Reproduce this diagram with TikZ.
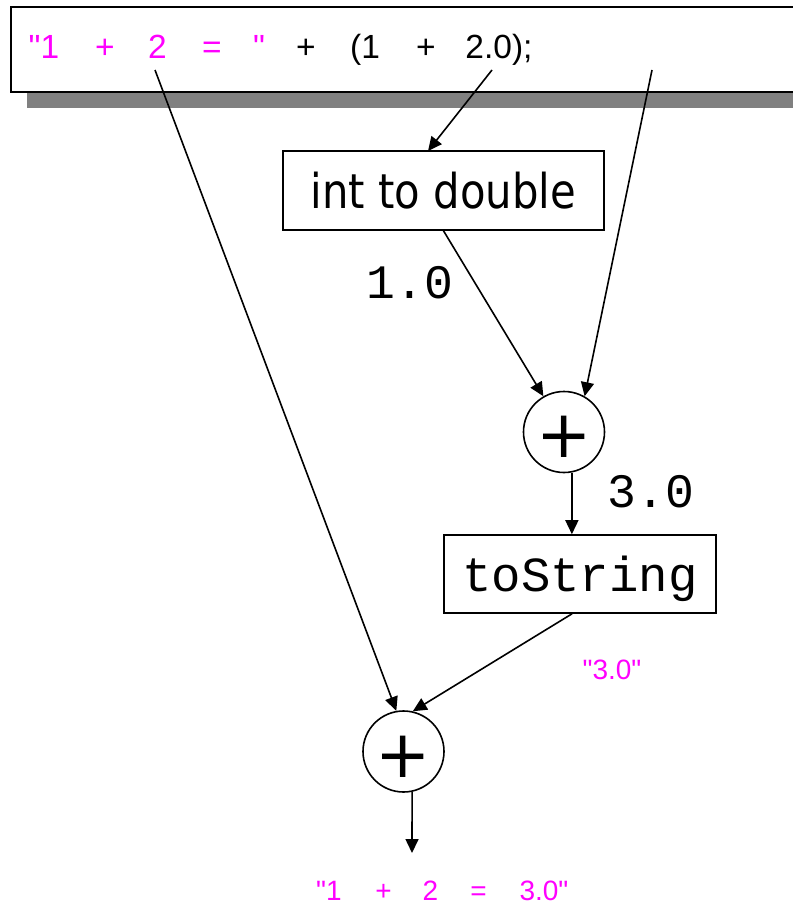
\documentclass[tikz,border=0pt]{standalone}
\usepackage{fontspec}
\setmainfont{Liberation Sans}[Ligatures=TeXOff]
\newfontfamily\tahfont[FakeStretch=0.87]{DejaVu Sans}
\newfontfamily\monofont{Liberation Mono}
\newfontfamily\plusfont{DejaVu Sans}
\usetikzlibrary{arrows.meta,calc}
\definecolor{mag}{RGB}{255,0,255}
\definecolor{shadowgray}{RGB}{128,128,128}
\begin{document}
\begin{tikzpicture}[x=1pt,y=-1pt,line width=1.6pt,
  arr/.style={-{Triangle[length=14pt,width=13pt]}},
  boxnode/.style={draw,inner sep=0pt,line width=1.6pt},
  opc/.style={draw,circle,inner sep=0pt,minimum size=81pt,line width=1.6pt,
    label={[font=\plusfont\fontsize{66}{66}\selectfont,yshift=-5pt,inner sep=0pt]center:+}},
  code/.style={anchor=base,inner sep=0pt,font=\fontsize{33.5}{36}\selectfont},
  res/.style={anchor=base,inner sep=0pt,font=\fontsize{28}{30}\selectfont,text=mag},
  val/.style={anchor=base,inner sep=0pt,font=\monofont\fontsize{48}{50}\selectfont}
]
\useasboundingbox (0,0) rectangle (792,907);
% code line box with shadow
\fill[shadowgray] (27,92) rectangle (800,108);
\draw[fill=white] (11,7) rectangle (800,92);
% code tokens
\node[code,text=mag] (q1) at (44,59) {"1};
\node[code,text=mag] (q2) at (105,59) {+};
\node[code,text=mag] (q3) at (157.5,59) {2};
\node[code,text=mag] (q4) at (212,59) {=};
\node[code,text=mag] (q5) at (259,59) {"};
\node[code] (q6) at (306,59) {+};
\node[code] (q7) at (365,59) {(1};
\node[code] (q8) at (426,59) {+};
\node[code] (q9) at (499,59) {2.0);};
% boxes
\node[boxnode,minimum width=321pt,minimum height=79pt,font=\tahfont\fontsize{48}{50}\selectfont] (td) at (443.5,190.5) {int to double};
\node[boxnode,minimum width=272pt,minimum height=78pt,text depth=0pt,font=\monofont\fontsize{49}{50}\selectfont] (ts) at (580,574) {toString};
% operators
\node[opc] (p1) at (564,432) {};
\node[opc] (p2) at (403.5,751.5) {};
% values
\node[val] (v1) at (410,298) {1.0};
\node[val] (v2) at (651,507) {3.0};
\node[res] (v3) at (612,679) {"3.0"};
% result
\node[res] (r1) at (329,900) {"1};
\node[res] (r2) at (383.5,900) {+};
\node[res] (r3) at (430.5,900) {2};
\node[res] (r4) at (478.5,900) {=};
\node[res] (r5) at (544,900) {3.0"};
% free ends
\coordinate (s1) at (155,70);
\coordinate (s2) at (492,70);
\coordinate (s3) at (652,70);
\coordinate (e2) at (428,151);
\coordinate (e7) at (412,853);
% connectors
\draw[arr] (s1) -- (p2.100);
\draw[arr] (s2) -- (e2);
\draw[arr] (s3) -- (p1.60);
\draw[arr] (td.south) -- (p1.120);
\draw[arr] (p1.-79) -- (p1.-79 |- ts.north);
\draw[arr] ($(ts.south)+(-8,0)$) -- (p2.77);
\draw[arr] (p2.-78) -- (e7);
\end{tikzpicture}
\end{document}
